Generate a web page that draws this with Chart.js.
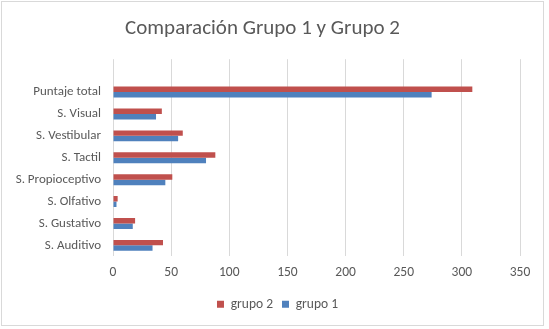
<!DOCTYPE html>
<html>
<head>
<meta charset="utf-8">
<script src="https://cdn.jsdelivr.net/npm/chart.js@4/dist/chart.umd.min.js"></script>
<style>
  html, body { margin: 0; padding: 0; background: #ffffff; }
  #wrap { position: absolute; left: 1px; top: 1px; width: 541px; height: 323px; border: 1px solid #d9d9d9; background: #fff; }
  canvas { display: block; }
</style>
</head>
<body>
<div id="wrap"><canvas id="c" width="541" height="323"></canvas></div>
<script>
// Categories, top to bottom (the top slot is an empty category as in the reference)
const categories = ["", "Puntaje total", "S. Visual", "S. Vestibular", "S. Tactil", "S. Propioceptivo", "S. Olfativo", "S. Gustativo", "S. Auditivo"];
const grupo2 = [null, 309, 42, 60, 88, 51, 4, 19, 43];
const grupo1 = [null, 274, 37, 56, 80, 45, 3, 17, 34];
const xTicks = [0, 50, 100, 150, 200, 250, 300, 350];

const FONT = "Carlito, Lato, 'Liberation Sans', sans-serif";
const TEXT = "#595959";

const legendShift = {
  id: 'legendShift',
  afterLayout(chart) {
    if (chart.legend) { chart.legend.left += 15; chart.legend.right += 15; }
  }
};

new Chart(document.getElementById('c'), {
  type: 'bar',
  data: {
    labels: categories,
    datasets: [
      { label: 'grupo 2', data: grupo2, backgroundColor: '#C0504D', categoryPercentage: 0.5, barPercentage: 1.0 },
      { label: 'grupo 1', data: grupo1, backgroundColor: '#4F81BD', categoryPercentage: 0.5, barPercentage: 1.0 }
    ]
  },
  plugins: [legendShift],
  options: {
    indexAxis: 'y',
    responsive: false,
    animation: false,
    layout: { padding: { top: 10, right: 23, left: 3, bottom: 4 } },
    plugins: {
      title: {
        display: true,
        text: 'Comparación Grupo 1 y Grupo 2',
        color: TEXT,
        font: { family: FONT, size: 21, weight: 'normal' },
        padding: { top: 4, bottom: 18 }
      },
      legend: {
        position: 'bottom',
        labels: {
          color: TEXT,
          font: { family: FONT, size: 13.5 },
          boxWidth: 7,
          boxHeight: 7,
          padding: 9
        }
      },
      tooltip: { enabled: false }
    },
    scales: {
      x: {
        min: 0, max: 350,
        afterBuildTicks: (axis) => { axis.ticks = xTicks.map(v => ({ value: v })); },
        grid: { color: '#D9D9D9', drawTicks: false },
        border: { display: false },
        ticks: { color: TEXT, font: { family: FONT, size: 13.5 }, padding: 8 }
      },
      y: {
        afterFit: (axis) => { axis.width = 108; },
        grid: { display: false },
        border: { display: false },
        ticks: { color: TEXT, font: { family: FONT, size: 13 }, padding: 4, autoSkip: false }
      }
    }
  }
});
</script>
</body>
</html>
